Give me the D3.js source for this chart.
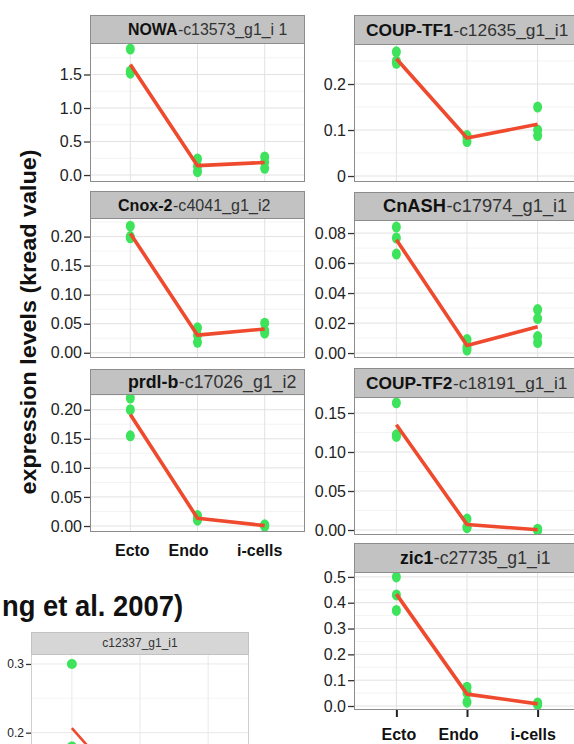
<!DOCTYPE html>
<html>
<head>
<meta charset="utf-8">
<script src="https://cdn.jsdelivr.net/npm/d3@7"></script>
<style>
body{margin:0;background:#fff;}
svg{display:block;}
</style>
</head>
<body>
<div class="chart"></div>
<script>
// categories on x
var categories = ["Ecto", "Endo", "i-cells"];

// strip titles: gene name (bold) + transcript id
var genes = ["NOWA", "COUP-TF1", "Cnox-2", "CnASH", "prdl-b", "COUP-TF2", "zic1"];
var transcripts = ["-c13573_g1_i 1", "-c12635_g1_i1", "-c4041_g1_i2", "-c17974_g1_i1", "-c17026_g1_i2", "-c18191_g1_i1", "-c27735_g1_i1"];

// replicate values (kread), one list per category
var nowaValues    = [[1.88, 1.55, 1.52], [0.05, 0.13, 0.24], [0.10, 0.19, 0.27]];
var coupTf1Values = [[0.27, 0.25, 0.245], [0.088, 0.085, 0.075], [0.15, 0.10, 0.088]];
var cnox2Values   = [[0.218, 0.20, 0.198], [0.043, 0.030, 0.018], [0.051, 0.038, 0.034]];
var cnashValues   = [[0.084, 0.0767, 0.066], [0.009, 0.004, 0.002], [0.029, 0.023, 0.011, 0.007]];
var prdlbValues   = [[0.22, 0.20, 0.155], [0.018, 0.012, 0.010], [0.002, 0.0, 0.0]];
var coupTf2Values = [[0.163, 0.122, 0.12], [0.014, 0.004, 0.003], [0.001, 0.0, 0.0]];
var zic1Values    = [[0.50, 0.43, 0.37], [0.073, 0.05, 0.015], [0.012, 0.008, 0.005]];
var c12337Values  = [[0.30, 0.18, 0.14], [0.10, 0.088], [0.02, 0.01]];

// tick values
var nowaTicks    = [0, 0.5, 1.0, 1.5];
var coupTf1Ticks = [0, 0.1, 0.2];
var cnox2Ticks   = [0, 0.05, 0.10, 0.15, 0.20];
var cnashTicks   = [0, 0.02, 0.04, 0.06, 0.08];
var prdlbTicks   = [0, 0.05, 0.10, 0.15, 0.20];
var coupTf2Ticks = [0, 0.05, 0.10, 0.15];
var zic1Ticks    = [0, 0.1, 0.2, 0.3, 0.4, 0.5];
var c12337Ticks  = [0.2, 0.3];

var W = 574, H = 744;

var svg = d3.select("div.chart")
            .append("svg")
            .attr("width", W)
            .attr("height", H);

var fontNarrow = "'Liberation Sans Narrow', 'Arial Narrow', 'Liberation Sans', Arial, sans-serif";
var fontBold = "'Liberation Sans', Arial, Helvetica, sans-serif";

var pointColor = "#3de35a";
var lineColor = "#ef4a2e";

//tick formats
var f1 = d3.format(".1f"), f2 = d3.format(".2f");
var fShort = function(d){ return d === 0 ? "0" : f1(d); };

//layout of each facet panel (pixels)
var panels = [
  {values: nowaValues,    ticks: nowaTicks,    fmt: f1,     x0: 90,  x1: 305, top: 15,  stripH: 28, bottom: 182, domain: [-0.104, 1.97],  labX: 128, labW: 159},
  {values: coupTf1Values, ticks: coupTf1Ticks, fmt: fShort, x0: 354, x1: 580, top: 15,  stripH: 29, bottom: 182, domain: [-0.013, 0.287], labX: 366, labW: 202},
  {values: cnox2Values,   ticks: cnox2Ticks,   fmt: f2,     x0: 90,  x1: 305, top: 191, stripH: 27, bottom: 358, domain: [-0.009, 0.232], labX: 118, labW: 152},
  {values: cnashValues,   ticks: cnashTicks,   fmt: f2,     x0: 354, x1: 580, top: 192, stripH: 28, bottom: 358, domain: [-0.0033, 0.0887], labX: 383, labW: 184},
  {values: prdlbValues,   ticks: prdlbTicks,   fmt: f2,     x0: 90,  x1: 305, top: 369, stripH: 25, bottom: 532, domain: [-0.0103, 0.227], labX: 128, labW: 168},
  {values: coupTf2Values, ticks: coupTf2Ticks, fmt: f2,     x0: 354, x1: 580, top: 368, stripH: 29, bottom: 535, domain: [-0.0064, 0.1705], labX: 366, labW: 201},
  {values: zic1Values,    ticks: zic1Ticks,    fmt: f1,     x0: 354, x1: 580, top: 543, stripH: 29, bottom: 710, domain: [-0.0155, 0.519], labX: 400, labW: 150}
];

function minorBreaks(ticks, domain){
  var out = [];
  var step = ticks[1] - ticks[0];
  for (var v = ticks[0] - step/2; v <= domain[1]; v += step){
    if (v >= domain[0]) out.push(v);
  }
  return out;
}

function drawPanel(p, i, style){
  var g = svg.append("g");
  var plotTop = p.top + p.stripH;

  var x = d3.scalePoint()
            .domain(categories)
            .range([p.x0, p.x1])
            .padding(0.6);

  var y = d3.scaleLinear()
            .domain(p.domain)
            .range([p.bottom, plotTop]);

  var clipId = "clip" + i;
  g.append("clipPath").attr("id", clipId)
    .append("rect")
      .attr("x", p.x0).attr("y", plotTop)
      .attr("width", p.x1 - p.x0).attr("height", p.bottom - plotTop);

  var plot = g.append("g").attr("clip-path", "url(#" + clipId + ")");

  plot.append("rect")
      .attr("x", p.x0).attr("y", plotTop)
      .attr("width", p.x1 - p.x0).attr("height", p.bottom - plotTop)
      .attr("fill", "#fff");

  //grid
  plot.selectAll(".minor")
      .data(minorBreaks(p.ticks, p.domain))
      .enter().append("line")
        .attr("x1", p.x0).attr("x2", p.x1)
        .attr("y1", function(d){ return y(d); })
        .attr("y2", function(d){ return y(d); })
        .attr("stroke", style.minor).attr("stroke-width", 1);

  plot.selectAll(".major")
      .data(p.ticks)
      .enter().append("line")
        .attr("x1", p.x0).attr("x2", p.x1)
        .attr("y1", function(d){ return y(d); })
        .attr("y2", function(d){ return y(d); })
        .attr("stroke", style.major).attr("stroke-width", 1);

  plot.selectAll(".vgrid")
      .data(categories)
      .enter().append("line")
        .attr("x1", function(d){ return x(d); })
        .attr("x2", function(d){ return x(d); })
        .attr("y1", plotTop).attr("y2", p.bottom)
        .attr("stroke", style.major).attr("stroke-width", 1);

  //replicate points
  var pts = [];
  p.values.forEach(function(vals, ci){
    vals.forEach(function(v){ pts.push({cat: categories[ci], v: v}); });
  });

  plot.selectAll(".pt")
      .data(pts)
      .enter().append("ellipse")
        .attr("cx", function(d){ return x(d.cat); })
        .attr("cy", function(d){ return y(d.v); })
        .attr("rx", style.rx).attr("ry", style.ry)
        .attr("fill", pointColor);

  //mean line
  var means = p.values.map(function(vals, ci){
    return {cat: categories[ci], v: d3.mean(vals)};
  });

  var line = d3.line()
               .x(function(d){ return x(d.cat); })
               .y(function(d){ return y(d.v); });

  plot.append("path")
      .datum(means)
      .attr("d", line)
      .attr("fill", "none")
      .attr("stroke", lineColor)
      .attr("stroke-width", style.lw)
      .attr("stroke-linejoin", "round");

  //panel border
  g.append("rect")
      .attr("x", p.x0 + 0.5).attr("y", plotTop + 0.5)
      .attr("width", p.x1 - p.x0 - 1).attr("height", p.bottom - plotTop - 1)
      .attr("fill", "none")
      .attr("stroke", style.border);

  //strip
  g.append("rect")
      .attr("x", p.x0 + 0.5).attr("y", p.top + 0.5)
      .attr("width", p.x1 - p.x0 - 1).attr("height", p.stripH)
      .attr("fill", style.strip)
      .attr("stroke", style.stripBorder);

  //y axis
  var yAxis = d3.axisLeft(y)
                .tickValues(p.ticks)
                .tickFormat(p.fmt)
                .tickSize(style.tickSize)
                .tickPadding(2);

  var ax = g.append("g")
            .attr("transform", "translate(" + p.x0 + ",0)")
            .call(yAxis);
  ax.select(".domain").remove();
  ax.selectAll("line").attr("stroke", "#333").attr("stroke-width", 1.3);
  ax.selectAll("text")
    .attr("fill", "#222")
    .style("font-family", style.tickFont)
    .style("font-size", style.tickSize2 + "px");

  return {x: x, y: y, g: g};
}

var mainStyle = {
  minor: "#f3f3f3", major: "#e2e2e2", border: "#8c8c8c",
  strip: "#c2c2c2", stripBorder: "#8c8c8c",
  rx: 4.5, ry: 5.5, lw: 3.6,
  tickSize: 6, tickFont: fontNarrow, tickSize2: 16
};

panels.forEach(function(p, i){
  drawPanel(p, i, mainStyle);

  //strip title: bold gene + plain id, font sized so both fit the measured width
  var ty = p.top + p.stripH / 2 + 6;
  var gt = svg.append("text")
              .attr("x", p.labX).attr("y", ty)
              .style("font-family", fontNarrow)
              .style("font-size", "18px")
              .style("font-weight", "bold")
              .attr("fill", "#111")
              .text(genes[i]);
  var it = svg.append("text")
              .attr("y", ty)
              .style("font-family", fontNarrow)
              .style("font-size", "18px")
              .attr("fill", "#333")
              .text(transcripts[i]);
  var s = p.labW / (gt.node().getComputedTextLength() + it.node().getComputedTextLength());
  var fs = Math.min(20, 18 * s);
  gt.style("font-size", fs + "px");
  it.style("font-size", fs + "px");
  var gw = gt.node().getComputedTextLength();
  it.attr("x", p.labX + gw + 0.5);
});

//x labels under left column (no tick marks)
var labelShift = [2, -9, -5];
var xLeft = d3.scalePoint().domain(categories).range([90, 305]).padding(0.6);
svg.selectAll(".xlabL")
   .data(categories)
   .enter().append("text")
     .attr("x", function(d, i){ return xLeft(d) + labelShift[i]; })
     .attr("y", 556)
     .attr("text-anchor", "middle")
     .style("font-family", fontBold)
     .style("font-weight", "bold")
     .style("font-size", "16px")
     .attr("fill", "#111")
     .text(function(d){ return d; });

//x axis under zic1
var xRight = d3.scalePoint().domain(categories).range([354, 580]).padding(0.6);
var xAx = svg.append("g")
             .attr("transform", "translate(0,710)")
             .call(d3.axisBottom(xRight).tickSize(7).tickPadding(12));
xAx.select(".domain").remove();
xAx.selectAll("line").attr("stroke", "#222").attr("stroke-width", 2);
xAx.selectAll("text")
   .attr("dx", function(d, i){ return labelShift[i]; })
   .attr("fill", "#111")
   .style("font-family", fontBold)
   .style("font-weight", "bold")
   .style("font-size", "16px");

//shared y title
svg.append("text")
   .attr("transform", "translate(36,322) rotate(-90)")
   .attr("text-anchor", "middle")
   .attr("textLength", 345)
   .attr("lengthAdjust", "spacingAndGlyphs")
   .style("font-family", fontBold)
   .style("font-weight", "bold")
   .style("font-size", "22px")
   .attr("fill", "#111")
   .text("expression levels (kread value)");

//citation fragment
svg.append("text")
   .attr("x", 2)
   .attr("y", 616)
   .attr("textLength", 181)
   .attr("lengthAdjust", "spacingAndGlyphs")
   .style("font-family", fontBold)
   .style("font-weight", "bold")
   .style("font-size", "30px")
   .attr("fill", "#111")
   .text("ng et al. 2007)");

//bottom-left inset panel (lighter style)
var inset = {values: c12337Values, ticks: c12337Ticks, fmt: f1, x0: 31, x1: 249, top: 632, stripH: 22, bottom: 900, domain: [-0.0435, 0.3145]};
var insetStyle = {
  minor: "#f5f5f5", major: "#e9e9e9", border: "#cfcfcf",
  strip: "#d6d6d6", stripBorder: "#c2c2c2",
  rx: 5, ry: 5, lw: 2.6,
  tickSize: 5, tickFont: fontBold, tickSize2: 12
};
drawPanel(inset, 7, insetStyle);

svg.append("text")
   .attr("x", 140)
   .attr("y", 647)
   .attr("text-anchor", "middle")
   .style("font-family", fontBold)
   .style("font-size", "12px")
   .attr("fill", "#333")
   .text("c12337_g1_i1");
</script>
</body>
</html>
